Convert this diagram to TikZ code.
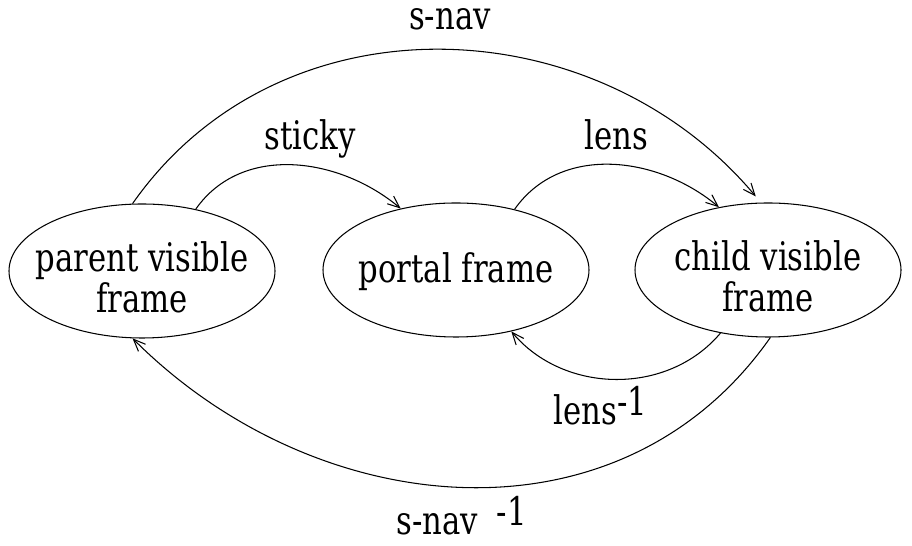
\documentclass[tikz,border=0pt]{standalone}
\usepackage{fontspec}
\setmainfont[FakeStretch=0.78]{DejaVu Serif}
\usetikzlibrary{arrows.meta,shapes.geometric}
\def\invsup{\raisebox{0.18cm}{-1}}
\def\topstrut#1{\rule{0pt}{#1}}
\tikzset{
  every node/.style={font=\fontsize{22.4pt}{23.3pt}\selectfont},
  state/.style={draw, ellipse, line width=0.6pt, minimum width=5.32cm, minimum height=2.68cm,
    inner xsep=-0.5cm, inner ysep=0pt, align=center},
  trans/.style={line width=0.6pt, -{Straight Barb[length=2.4mm,width=2mm]}},
  lbl/.style={anchor=base, inner sep=0pt}
}

\begin{document}
\begin{tikzpicture}
		%%%%% START %%%%%
		\useasboundingbox (0,0) rectangle (18.24,10.92);
		
		\node[state] (parent) at (2.84,5.5) {\topstrut{0.86cm}parent visible\\frame};
		\node[state] (portal) at (9.12,5.52) {\topstrut{0.66cm}portal frame};
		\node[state] (child) at (15.36,5.52) {\topstrut{0.86cm}child visible\\frame};
		
		\draw[trans, shorten >=0.16cm] (parent.98) to[out=55,in=130,looseness=1.05] (child.96);
		\draw[trans] (parent.49) to[out=55,in=140] (portal.132);
		\draw[trans] (portal.46) to[out=55,in=140] (child.128);
		\draw[trans] (child.233) to[out=230,in=310] (portal.312);
		\draw[trans] (child.272) to[out=235,in=315,looseness=1.05] (parent.262);
		
		\node[lbl] (snav) at (9.0,10.32) {s-nav};
		\node[lbl] (sticky) at (6.2,7.92) {sticky};
		\node[lbl] (lens) at (12.32,7.92) {lens};
		\node[lbl] (lensinv) at (12.01,2.42) {lens\invsup};
		\node[lbl] (snavinv) at (9.23,0.22) {s-nav\hspace{0.38cm}\invsup};
		
		%%%%% END %%%%%
	\end{tikzpicture}
\end{document}
